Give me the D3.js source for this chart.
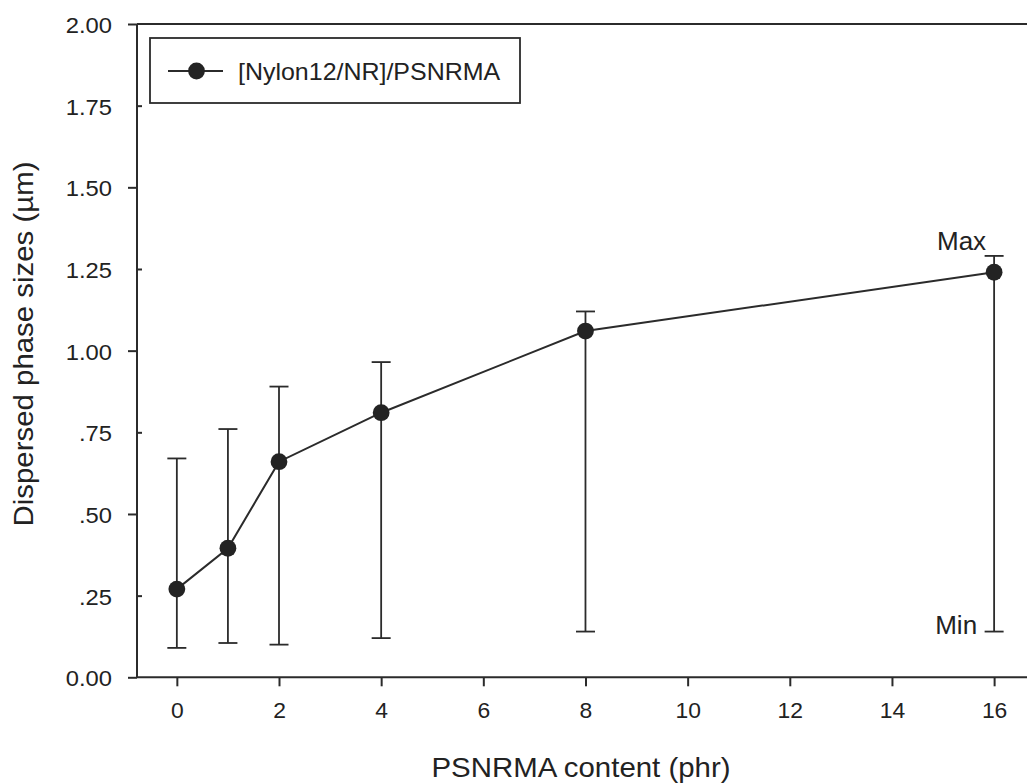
<!DOCTYPE html>
<html>
<head>
<meta charset="utf-8">
<script src="https://cdn.jsdelivr.net/npm/d3@7/dist/d3.min.js"></script>
<style>
  html, body { margin: 0; padding: 0; background: #fff; }
  svg { display: block; }
  text { font-family: "Liberation Sans", Arial, sans-serif; fill: #222; }
</style>
</head>
<body>
<script>
// PSNRMA loading (phr) and dispersed phase sizes (µm)
const phr       = [0, 1, 2, 4, 8, 16];
const meanSize  = [0.27, 0.395, 0.66, 0.81, 1.06, 1.24];
const maxSize   = [0.67, 0.76, 0.89, 0.965, 1.12, 1.29];
const minSize   = [0.09, 0.105, 0.10, 0.12, 0.14, 0.14];

const xTicks        = [0, 2, 4, 6, 8, 10, 12, 14, 16];
const yMajorTicks   = [0, 0.5, 1.0, 1.5, 2.0];
const yMinorTicks   = [0.25, 0.75, 1.25, 1.75];
const yTickLabels   = ["0.00", ".25", ".50", ".75", "1.00", "1.25", "1.50", "1.75", "2.00"];
const yTickValues   = [0, 0.25, 0.5, 0.75, 1.0, 1.25, 1.5, 1.75, 2.0];
const seriesName    = "[Nylon12/NR]/PSNRMA";
const xTitle        = "PSNRMA content (phr)";
const yTitle        = "Dispersed phase sizes (\u00b5m)";

const W = 1027, H = 783;
const ink = "#2b2b2b";

const svg = d3.select("body").append("svg")
  .attr("width", W).attr("height", H);

const x = d3.scaleLinear().domain([-0.78, 16.82]).range([137, 1036]);
const y = d3.scaleLinear().domain([0, 2]).range([677.3, 24]);

const labelFor = v => yTickLabels[yTickValues.findIndex(t => Math.abs(t - v) < 1e-9)];

// stretch text horizontally by a factor, keeping its anchor
function widen(sel, f) {
  sel.each(function () {
    const n = this.getComputedTextLength();
    d3.select(this).attr("textLength", n * f).attr("lengthAdjust", "spacingAndGlyphs");
  });
}

// frame: left, top and bottom lines
const frame = svg.append("g").attr("stroke", ink).attr("stroke-width", 2).attr("fill", "none");
frame.append("line").attr("x1", x.range()[0]).attr("x2", x.range()[0]).attr("y1", y(2)).attr("y2", y(0));
frame.append("line").attr("x1", x.range()[0]).attr("x2", x.range()[1]).attr("y1", y(2)).attr("y2", y(2));
frame.append("line").attr("x1", x.range()[0]).attr("x2", x.range()[1]).attr("y1", y(0)).attr("y2", y(0));

// x axis
const gx = svg.append("g").attr("transform", `translate(0,${y(0)})`)
  .call(d3.axisBottom(x).tickValues(xTicks).tickSize(9).tickPadding(16).tickFormat(d3.format("d")));
gx.select(".domain").remove();
gx.selectAll(".tick line").attr("stroke", ink).attr("stroke-width", 2);
gx.selectAll(".tick text").attr("font-size", 22).attr("fill", "#222")
  .attr("font-family", "Liberation Sans, Arial, sans-serif");
widen(gx.selectAll(".tick text"), 1.04);

// y axis: major ticks outside, minor ticks inside, all labelled
const gyMajor = svg.append("g").attr("transform", `translate(${x.range()[0]},0)`)
  .call(d3.axisLeft(y).tickValues(yMajorTicks).tickSize(9).tickPadding(16).tickFormat(labelFor));
const gyMinor = svg.append("g").attr("transform", `translate(${x.range()[0]},0)`)
  .call(d3.axisLeft(y).tickValues(yMinorTicks).tickSize(-5).tickPadding(25).tickFormat(labelFor));
[gyMajor, gyMinor].forEach(g => {
  g.select(".domain").remove();
  g.selectAll(".tick line").attr("stroke", ink).attr("stroke-width", 2);
  g.selectAll(".tick text").attr("font-size", 22).attr("fill", "#222")
    .attr("font-family", "Liberation Sans, Arial, sans-serif").attr("dy", "0.38em");
  widen(g.selectAll(".tick text"), 1.08);
});

// axis titles
const xt = svg.append("text").attr("x", 581).attr("y", 777).attr("text-anchor", "middle")
  .attr("font-size", 28).text(xTitle);
widen(xt, 1.05);
const yt = svg.append("text").attr("transform", "translate(33,344) rotate(-90)")
  .attr("text-anchor", "middle").attr("font-size", 28).text(yTitle);
widen(yt, 1.05);

const pts = phr.map((p, i) => ({ p, mean: meanSize[i], max: maxSize[i], min: minSize[i] }));

// min/max range bars
const bars = svg.append("g").attr("stroke", ink).attr("stroke-width", 1.8);
const capW = 9.5;
pts.forEach(d => {
  bars.append("line").attr("x1", x(d.p)).attr("x2", x(d.p)).attr("y1", y(d.max)).attr("y2", y(d.min));
  bars.append("line").attr("x1", x(d.p) - capW).attr("x2", x(d.p) + capW).attr("y1", y(d.max)).attr("y2", y(d.max));
  bars.append("line").attr("x1", x(d.p) - capW).attr("x2", x(d.p) + capW).attr("y1", y(d.min)).attr("y2", y(d.min));
});

// mean line and markers
svg.append("path").datum(pts)
  .attr("fill", "none").attr("stroke", ink).attr("stroke-width", 2)
  .attr("d", d3.line().x(d => x(d.p)).y(d => y(d.mean)));
svg.append("g").selectAll("circle").data(pts).join("circle")
  .attr("cx", d => x(d.p)).attr("cy", d => y(d.mean)).attr("r", 8.4)
  .attr("fill", "#232323");

// Max / Min annotations on the last bar
const last = pts[pts.length - 1];
const mx = svg.append("text").attr("x", x(last.p) - 8).attr("y", y(last.max) - 5.5)
  .attr("text-anchor", "end").attr("font-size", 25).text("Max");
widen(mx, 1.04);
const mn = svg.append("text").attr("x", x(last.p) - 17).attr("y", y(last.min) + 2.5)
  .attr("text-anchor", "end").attr("font-size", 25).text("Min");
widen(mn, 1.04);

// legend
const lg = svg.append("g");
lg.append("rect").attr("x", 150).attr("y", 38).attr("width", 370).attr("height", 65)
  .attr("fill", "#fff").attr("stroke", ink).attr("stroke-width", 1.8);
lg.append("line").attr("x1", 168).attr("x2", 223).attr("y1", 71).attr("y2", 71)
  .attr("stroke", ink).attr("stroke-width", 2);
lg.append("circle").attr("cx", 196.5).attr("cy", 71).attr("r", 8.4).attr("fill", "#232323");
const lt = lg.append("text").attr("x", 238).attr("y", 79.5).attr("font-size", 24).text(seriesName);
widen(lt, 1.04);
</script>
</body>
</html>
